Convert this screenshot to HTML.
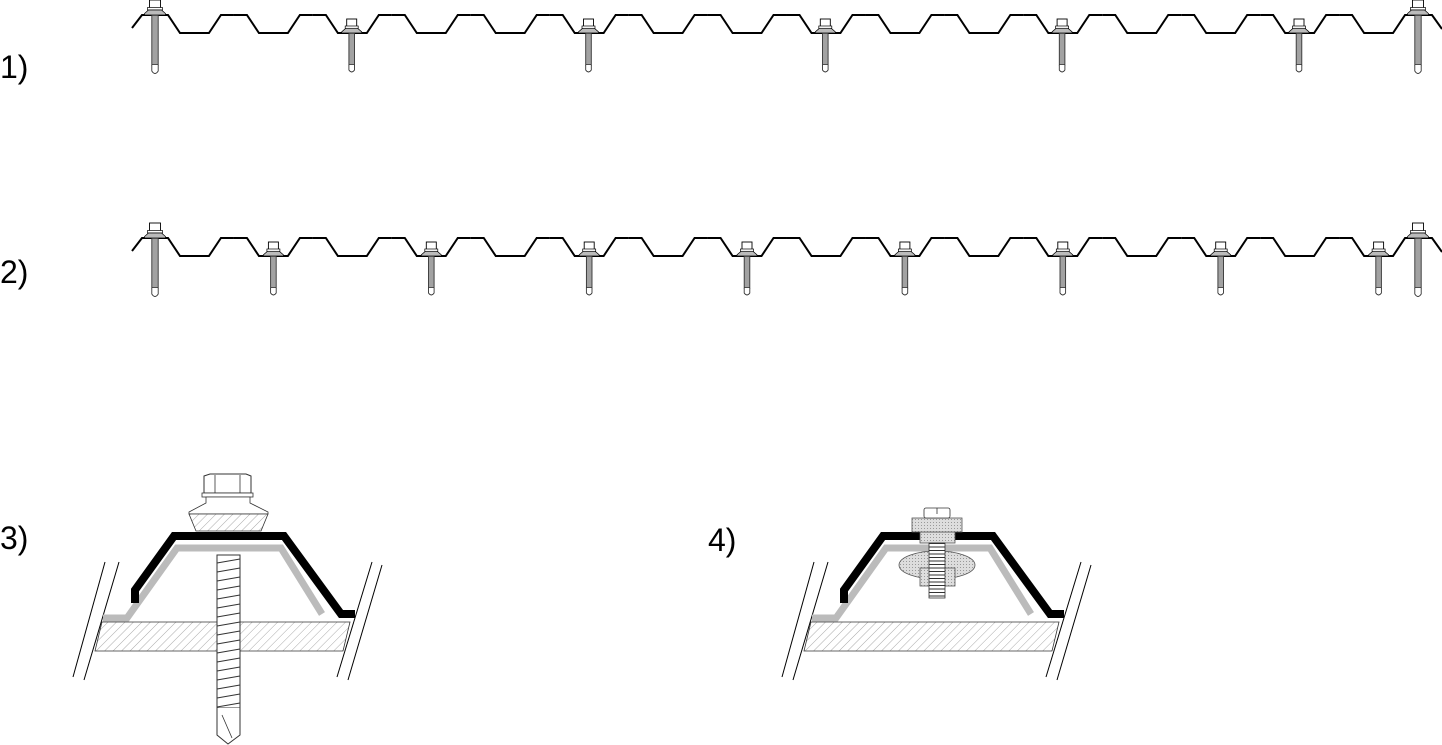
<!DOCTYPE html>
<html><head><meta charset="utf-8"><style>
html,body{margin:0;padding:0;background:#fff;}
svg{display:block}
text{font-family:"Liberation Sans",sans-serif;font-size:32px;fill:#000}
</style></head><body>
<svg width="1442" height="745" viewBox="0 0 1442 745" xmlns="http://www.w3.org/2000/svg">
<defs>
<pattern id="hatch" width="6" height="6" patternUnits="userSpaceOnUse" patternTransform="rotate(45)">
<rect width="6" height="6" fill="#fff"/><line x1="0" y1="0" x2="0" y2="6" stroke="#aaa" stroke-width="1"/></pattern>
<pattern id="thr" width="4" height="2" patternUnits="userSpaceOnUse">
<rect width="4" height="2" fill="#eee"/><line x1="0" y1="1" x2="4" y2="1" stroke="#555" stroke-width="1"/></pattern>
<pattern id="thr3" width="4" height="3.5" patternUnits="userSpaceOnUse">
<rect width="4" height="3.5" fill="#fff"/><line x1="0" y1="1" x2="4" y2="1" stroke="#333" stroke-width="1"/></pattern>
<pattern id="dots" width="3" height="3" patternUnits="userSpaceOnUse">
<rect width="3" height="3" fill="#ddd"/><rect width="1" height="1" fill="#999"/></pattern>
<path id="per" d="M0 0 H13 L25 18 H53.94 L65.94 0 H78.94" fill="none" stroke="#000" stroke-width="2"/>
<g id="cs">
<rect x="-5.5" y="-15" width="11" height="8" fill="#fff" stroke="#000" stroke-width="0.9"/>
<rect x="-7.5" y="-7.5" width="15" height="2.5" fill="#fff" stroke="#000" stroke-width="0.7"/>
<path d="M-6.5 -5 H6.5 L10.5 -1.5 V0 H-10.5 V-1.5 Z" fill="#bbb" stroke="#000" stroke-width="0.7"/>
<rect x="-3.2" y="0" width="6.4" height="50" fill="url(#thr)" stroke="#333" stroke-width="0.9"/>
<path d="M-3.2 50 V56 Q0 61 3.2 56 V50" fill="#fff" stroke="#333" stroke-width="0.9"/>
</g>
<g id="vs">
<rect x="-5" y="-14" width="10" height="7.5" fill="#fff" stroke="#000" stroke-width="0.9"/>
<rect x="-6.5" y="-7" width="13" height="2.3" fill="#fff" stroke="#000" stroke-width="0.7"/>
<path d="M-6 -4.7 H6 L10 -1.2 V0 H-10 V-1.2 Z" fill="#bbb" stroke="#000" stroke-width="0.7"/>
<rect x="-2.8" y="0" width="5.6" height="32" fill="url(#thr)" stroke="#333" stroke-width="0.9"/>
<path d="M-2.8 32 V37 Q0 41 2.8 37 V32" fill="#fff" stroke="#333" stroke-width="0.9"/>
</g>
<g id="prof">
<path d="M132 28 L142 15 H155" fill="none" stroke="#000" stroke-width="2"/>
<g transform="translate(0,15)">
<use href="#per" x="155"/><use href="#per" x="233.94"/><use href="#per" x="312.88"/><use href="#per" x="391.82"/>
<use href="#per" x="470.76"/><use href="#per" x="549.7"/><use href="#per" x="628.64"/><use href="#per" x="707.58"/>
<use href="#per" x="786.52"/><use href="#per" x="865.46"/><use href="#per" x="944.4"/><use href="#per" x="1023.34"/>
<use href="#per" x="1102.28"/><use href="#per" x="1181.22"/><use href="#per" x="1260.16"/><use href="#per" x="1339.1"/>
</g>
<path d="M1418 15 H1432 L1442 29" fill="none" stroke="#000" stroke-width="2"/>
<use href="#cs" x="155" y="15"/><use href="#cs" x="1418" y="15"/>
</g>
<g id="bd">
<line x1="105" y1="562" x2="73" y2="677" stroke="#000" stroke-width="1"/>
<line x1="119" y1="562" x2="84" y2="680" stroke="#000" stroke-width="1"/>
<line x1="372" y1="562" x2="337" y2="677" stroke="#000" stroke-width="1"/>
<line x1="382" y1="565" x2="348" y2="680" stroke="#000" stroke-width="1"/>
<path d="M102 622 H350 L343 651 H95 Z" fill="url(#hatch)" stroke="#333" stroke-width="0.8"/>
<polyline points="103,618 127,618 177,548 281,548 322,614" fill="none" stroke="#bbb" stroke-width="7"/>
<polyline points="135,603 135,590 174,536 284,536 341,614 355,614" fill="none" stroke="#000" stroke-width="8"/>
</g>
</defs>
<rect width="1442" height="745" fill="#fff"/>
<text x="0" y="78">1)</text>
<text x="0" y="283">2)</text>
<text x="0" y="549">3)</text>
<text x="708" y="551">4)</text>

<use href="#prof"/>
<use href="#vs" x="351.7" y="33"/><use href="#vs" x="588.5" y="33"/><use href="#vs" x="825.3" y="33"/><use href="#vs" x="1062.1" y="33"/><use href="#vs" x="1299" y="33"/>

<use href="#prof" y="223"/>
<g transform="translate(0,223)">
<use href="#vs" x="273.4" y="33"/><use href="#vs" x="431.3" y="33"/><use href="#vs" x="589.2" y="33"/><use href="#vs" x="747" y="33"/><use href="#vs" x="904.9" y="33"/><use href="#vs" x="1062.8" y="33"/><use href="#vs" x="1220.7" y="33"/><use href="#vs" x="1378.6" y="33"/>
</g>

<!-- Fig 3 -->
<use href="#bd"/>
<rect x="217" y="555" width="23" height="153" fill="#fff" stroke="#333" stroke-width="1"/>
<g stroke="#333" stroke-width="1">
<line x1="217" y1="563" x2="240" y2="559"/><line x1="217" y1="572" x2="240" y2="568"/><line x1="217" y1="581" x2="240" y2="577"/><line x1="217" y1="590" x2="240" y2="586"/><line x1="217" y1="599" x2="240" y2="595"/><line x1="217" y1="608" x2="240" y2="604"/><line x1="217" y1="617" x2="240" y2="613"/><line x1="217" y1="626" x2="240" y2="622"/><line x1="217" y1="635" x2="240" y2="631"/><line x1="217" y1="644" x2="240" y2="640"/><line x1="217" y1="653" x2="240" y2="649"/><line x1="217" y1="662" x2="240" y2="658"/><line x1="217" y1="671" x2="240" y2="667"/><line x1="217" y1="680" x2="240" y2="676"/><line x1="217" y1="689" x2="240" y2="685"/><line x1="217" y1="698" x2="240" y2="694"/><line x1="217" y1="707" x2="240" y2="703"/>
</g>
<path d="M217 708 V735 L228 744 L240 735 V708" fill="#fff" stroke="#333" stroke-width="1"/>
<line x1="222" y1="715" x2="232" y2="738" stroke="#333" stroke-width="0.8"/>
<path d="M204 476 L210 474 H246 L251 476 V493 H204 Z" fill="#fff" stroke="#333" stroke-width="1"/>
<line x1="215" y1="475" x2="215" y2="493" stroke="#333" stroke-width="0.8"/><line x1="240" y1="475" x2="240" y2="493" stroke="#333" stroke-width="0.8"/>
<rect x="202" y="493" width="51" height="4" fill="#fff" stroke="#333" stroke-width="0.8"/>
<path d="M206 497 H250 V503 L268 512 V514 H189 V512 L206 503 Z" fill="#fff" stroke="#333" stroke-width="0.8"/>
<path d="M189 514 H268 L261 531 H196 Z" fill="url(#hatch)" stroke="#333" stroke-width="0.8"/>

<!-- Fig 4 -->
<g transform="translate(709,0)"><use href="#bd"/></g>
<ellipse cx="937" cy="565" rx="38" ry="14" fill="url(#dots)" stroke="#555" stroke-width="0.8"/>
<rect x="920" y="568" width="35" height="18" fill="url(#dots)" stroke="#555" stroke-width="0.8"/>
<rect x="920" y="532" width="35" height="11" fill="url(#dots)" stroke="#555" stroke-width="0.8"/>
<rect x="929" y="543" width="16" height="55" fill="url(#thr3)" stroke="#333" stroke-width="0.8"/>
<rect x="912" y="518" width="50" height="14" fill="url(#dots)" stroke="#555" stroke-width="0.8"/>
<rect x="924" y="508" width="26" height="10" rx="2" fill="#fff" stroke="#333" stroke-width="0.8"/>
<line x1="937" y1="508" x2="937" y2="514" stroke="#333" stroke-width="0.8"/>
</svg>
</body></html>
